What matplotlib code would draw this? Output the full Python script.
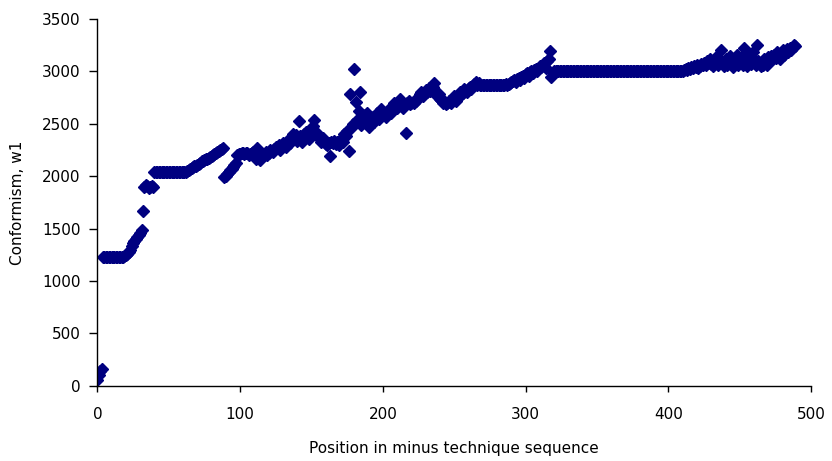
import matplotlib
matplotlib.use("Agg")
import matplotlib.pyplot as plt
import numpy as np

# Conformism score (w1) at each position of the minus-technique sequence
conformism = (
    [60, 100, 140, 160]
    + [1230] * 15
    + [1240, 1250, 1260, 1280, 1300, 1330, 1360, 1380, 1400, 1420, 1440, 1460, 1490]
    + [1670]
    + [1900, 1920, 1910, 1890, 1900, 1910, 1900]
    + [2040] * 23
    + [2050, 2060, 2070, 2080, 2090, 2100, 2100, 2110, 2120, 2130, 2140, 2140, 2150,
       2160, 2160, 2170, 2180, 2190, 2200, 2210, 2220, 2230, 2240, 2250, 2260, 2270]
    + [1990, 2000, 2020, 2040, 2060, 2070, 2090, 2110, 2130]
    + [2200, 2210, 2210, 2220, 2220, 2210, 2220, 2220, 2200, 2210, 2220, 2230, 2220]
    + [2160, 2270, 2180, 2150, 2200, 2190, 2210, 2230, 2200, 2220, 2250, 2240, 2230, 2260, 2280]
    + [2270, 2300, 2250, 2290, 2320, 2300, 2280, 2330, 2350, 2320, 2370, 2400, 2360, 2390, 2340]
    + [2530]
    + [2380, 2330, 2360, 2400, 2420, 2380, 2350, 2440, 2460, 2480, 2540, 2420, 2400, 2380,
       2350, 2330, 2360, 2340, 2310, 2300, 2320]
    + [2190]
    + [2330, 2320, 2340, 2310, 2330, 2300, 2320, 2350, 2330, 2400, 2380, 2430]
    + [2240]
    + [2780, 2460, 2500, 3020, 2710, 2540, 2620, 2800, 2490, 2580, 2520, 2560, 2600, 2470]
    + [2500, 2540, 2560, 2520, 2580, 2600, 2550, 2620, 2640, 2600, 2580, 2560, 2600, 2620,
       2650, 2600, 2640, 2700, 2680, 2650]
    + [2700, 2740, 2680, 2650, 2690, 2410, 2700, 2720, 2690, 2700, 2710, 2700, 2720, 2740, 2760]
    + [2780, 2800, 2760, 2790, 2820, 2800, 2840, 2810, 2830, 2850, 2890, 2800, 2760, 2780, 2740]
    + [2730, 2700, 2720, 2690, 2700, 2720, 2710, 2700, 2740, 2760, 2720, 2750, 2780, 2800,
       2770, 2790, 2830, 2810, 2800, 2840, 2850, 2830]
    + [2860, 2880, 2900, 2870, 2890] + [2870] * 18 + [2880, 2870, 2880, 2890]
    + [2900, 2910, 2920, 2900, 2930, 2940, 2920, 2950, 2960, 2940, 2970, 2980, 2960, 2990,
       3000, 2980, 3010, 3020, 3000, 3030, 3050, 3040, 3060, 3080, 3030, 3100, 3120, 3190,
       2950, 2980]
    + [3000] * 90
    + [3000, 3010, 3020, 3010, 3030, 3020, 3040, 3030, 3050, 3040, 3060, 3030, 3050, 3070,
       3060, 3080]
    + [3060, 3100, 3080, 3120, 3070, 3050, 3100, 3140, 3090, 3060, 3110, 3200]
    + [3080, 3050, 3120, 3060, 3100, 3150, 3070, 3040, 3110, 3080, 3160, 3060]
    + [3100, 3130, 3060, 3220, 3090, 3050, 3140, 3100, 3070, 3180, 3120, 3060]
    + [3250, 3100, 3080, 3050, 3060, 3120, 3090, 3060, 3140, 3100, 3150, 3120]
    + [3160, 3130, 3180, 3150, 3120, 3170, 3200, 3160, 3190, 3210, 3180, 3220, 3200, 3230,
       3250, 3240]
)
position = np.arange(len(conformism))

x_ticks = [0, 100, 200, 300, 400, 500]
y_ticks = [0, 500, 1000, 1500, 2000, 2500, 3000, 3500]
x_label = "Position in minus technique sequence"
y_label = "Conformism, w1"

plt.rcParams["font.family"] = ["DejaVu Sans"]

fig = plt.figure(figsize=(8.32, 4.61), dpi=100)
ax = fig.add_axes([0.117, 0.163, 0.858, 0.796])

ax.plot(position, conformism, linestyle="none", marker="D", markersize=5.8,
        color="#000080", markeredgecolor="#000080")

ax.set_xlim(0, 500)
ax.set_ylim(0, 3500)
ax.set_xticks(x_ticks)
ax.set_yticks(y_ticks)

for side in ("top", "right"):
    ax.spines[side].set_visible(False)
for side in ("left", "bottom"):
    ax.spines[side].set_linewidth(1.0)
    ax.spines[side].set_color("black")

ax.tick_params(axis="x", direction="out", length=4, width=1, pad=11, labelsize=11)
ax.tick_params(axis="y", direction="out", length=6, width=1, pad=6, labelsize=11)

ax.set_xlabel(x_label, fontsize=11, labelpad=14)
ax.set_ylabel(y_label, fontsize=11, labelpad=12)

fig.savefig("out.png", dpi=100, facecolor="white")
